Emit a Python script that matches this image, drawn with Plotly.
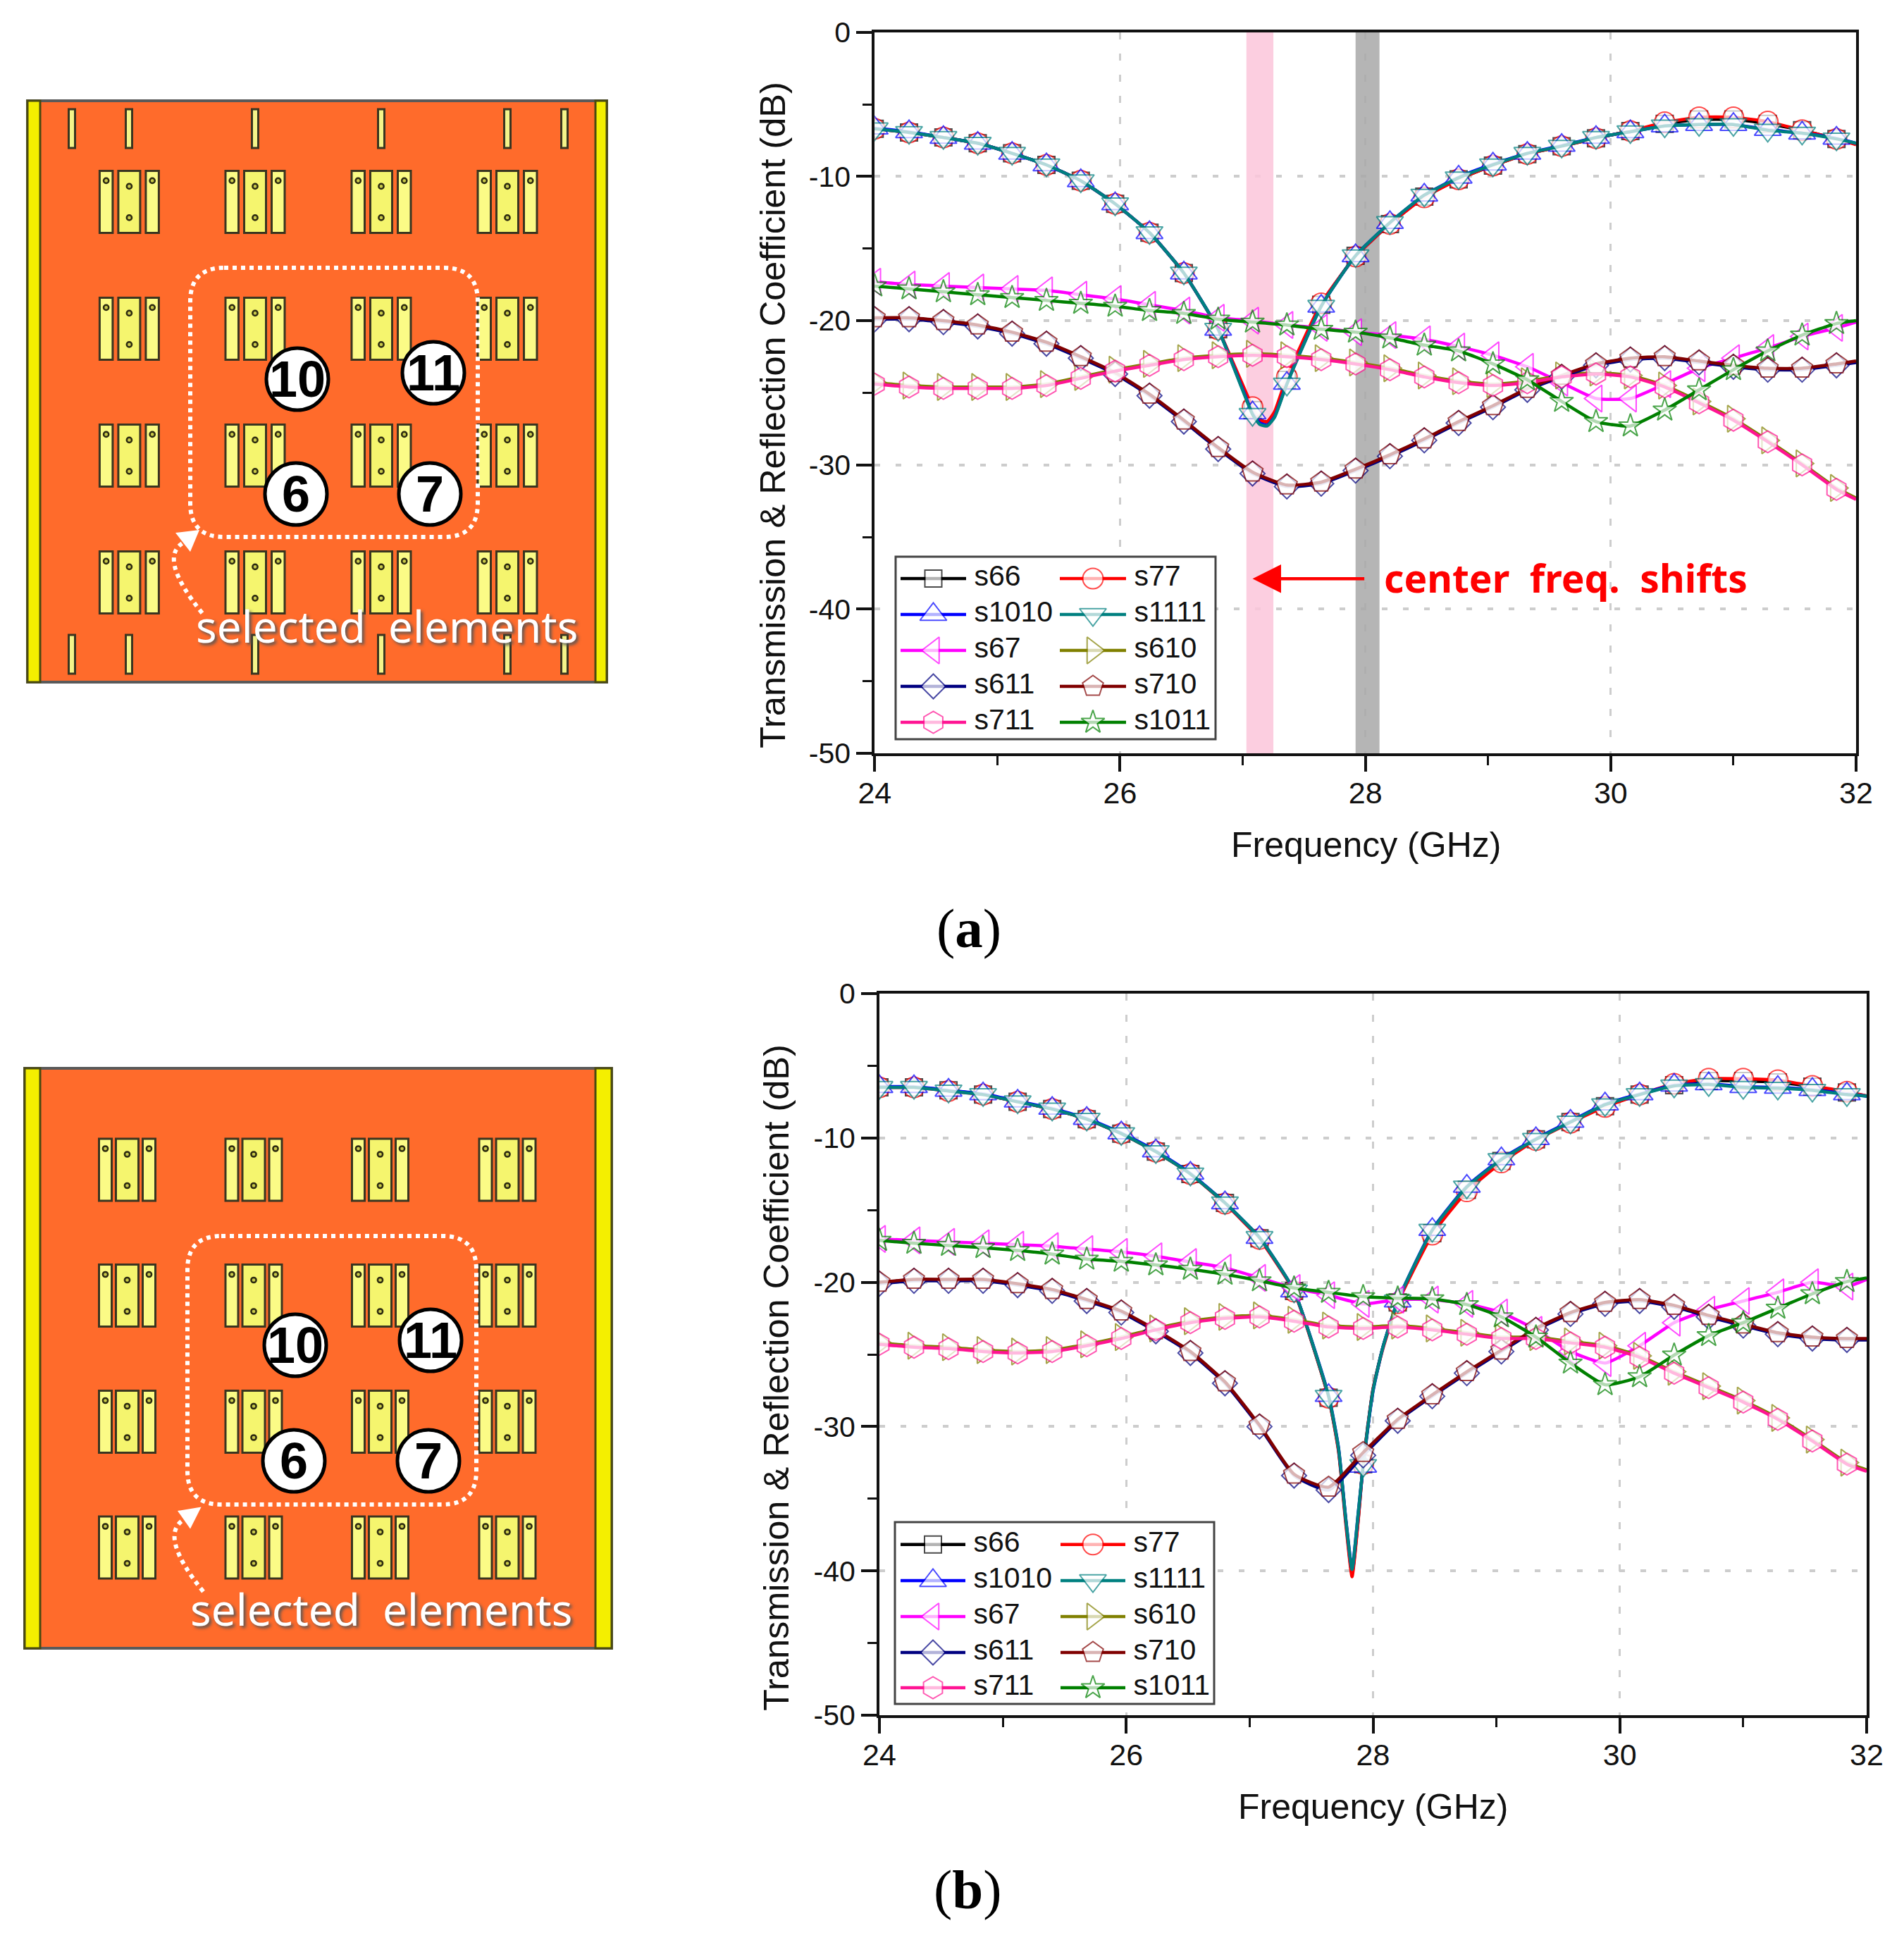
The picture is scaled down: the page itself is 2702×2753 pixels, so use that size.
import plotly.graph_objects as go

W, H = 2702, 2753

# ---------- measured data ----------
FREQ = [24.0, 24.28, 24.56, 24.84, 25.12, 25.4, 25.68, 25.96, 26.24, 26.52, 26.8, 27.08, 27.36, 27.64, 27.92,
        28.2, 28.48, 28.76, 29.04, 29.32, 29.6, 29.88, 30.16, 30.44, 30.72, 31.0, 31.28, 31.56, 31.84, 32.0]
UNMARKED_END = 32.0

# (a) reflection series use a few extra unmarked frequencies around the notch
FREQ_A_R = [24.0, 24.28, 24.56, 24.84, 25.12, 25.4, 25.68, 25.96, 26.24, 26.52, 26.8, 27.08, 27.14, 27.2, 27.26, 27.36, 27.64, 27.92,
            28.2, 28.48, 28.76, 29.04, 29.32, 29.6, 29.88, 30.16, 30.44, 30.72, 31.0, 31.28, 31.56, 31.84, 32.0]
A_S66 = [-6.7, -6.95, -7.3, -7.7, -8.4, -9.2, -10.3, -11.9, -13.9, -16.7, -20.6, -26.2, -26.9, -27.0, -26.4, -24.1, -18.9, -15.5,
         -13.3, -11.4, -10.2, -9.25, -8.45, -7.9, -7.35, -6.85, -6.35, -6.05, -6.05, -6.35, -6.8, -7.4, -7.75]
A_S77 = [-6.7, -6.95, -7.3, -7.7, -8.4, -9.2, -10.3, -11.9, -13.9, -16.7, -20.6, -26.0, -26.9, -27.0, -26.3, -23.9, -18.8, -15.55,
         -13.3, -11.45, -10.2, -9.25, -8.45, -7.9, -7.35, -6.85, -6.25, -5.9, -5.9, -6.2, -6.8, -7.4, -7.8]
A_S1010 = [-6.65, -6.9, -7.3, -7.7, -8.4, -9.2, -10.3, -11.9, -13.9, -16.7, -20.6, -26.4, -27.1, -27.25, -26.65, -24.35, -19.0, -15.5,
           -13.2, -11.3, -10.05, -9.15, -8.4, -7.85, -7.3, -6.9, -6.5, -6.4, -6.4, -6.75, -7.0, -7.35, -7.7]
A_S1111 = [-6.7, -6.95, -7.3, -7.7, -8.4, -9.2, -10.3, -11.9, -13.9, -16.7, -20.6, -26.5, -27.2, -27.3, -26.7, -24.4, -19.0, -15.5,
           -13.2, -11.3, -10.1, -9.2, -8.4, -7.9, -7.3, -6.9, -6.5, -6.4, -6.4, -6.8, -7.0, -7.4, -7.7]

A_S67 = [-17.3, -17.5, -17.6, -17.7, -17.8, -17.9, -18.2, -18.5, -18.9, -19.3, -19.8, -20.0, -20.3, -20.5, -20.8,
         -21.0, -21.3, -21.8, -22.4, -23.2, -24.3, -25.4, -25.4, -24.4, -23.3, -22.6, -21.9, -21.1, -20.5, -20.1]
A_S610 = [-24.3, -24.5, -24.6, -24.6, -24.6, -24.4, -23.9, -23.4, -23.0, -22.6, -22.4, -22.3, -22.4, -22.6, -22.9,
          -23.3, -23.8, -24.2, -24.4, -24.2, -23.8, -23.6, -23.8, -24.5, -25.6, -26.8, -28.3, -29.9, -31.6, -32.3]
A_S611 = [-19.9, -19.9, -20.1, -20.4, -20.9, -21.6, -22.6, -23.7, -25.2, -27.0, -28.9, -30.6, -31.5, -31.3, -30.4,
          -29.4, -28.3, -27.1, -26.0, -24.8, -23.9, -23.1, -22.7, -22.6, -22.9, -23.2, -23.4, -23.4, -23.1, -22.9]
A_S710 = [-19.8, -19.8, -20.0, -20.3, -20.8, -21.5, -22.5, -23.6, -25.1, -26.9, -28.8, -30.5, -31.4, -31.2, -30.3,
          -29.3, -28.2, -27.0, -25.9, -24.7, -23.8, -23.0, -22.6, -22.5, -22.8, -23.1, -23.3, -23.3, -23.0, -22.8]
A_S711 = [-24.4, -24.6, -24.7, -24.7, -24.7, -24.5, -24.0, -23.5, -23.1, -22.7, -22.5, -22.4, -22.5, -22.7, -23.0,
          -23.4, -23.9, -24.3, -24.5, -24.3, -23.9, -23.7, -23.9, -24.6, -25.7, -26.9, -28.4, -30.0, -31.7, -32.4]
A_S1011 = [-17.6, -17.8, -18.0, -18.2, -18.4, -18.6, -18.8, -19.0, -19.3, -19.5, -19.9, -20.1, -20.3, -20.6, -20.8,
           -21.2, -21.7, -22.1, -23.0, -24.1, -25.6, -27.0, -27.3, -26.2, -24.8, -23.4, -22.1, -21.0, -20.2, -20.0]

# (b)
FREQ_B_R = [24.0, 24.28, 24.56, 24.84, 25.12, 25.4, 25.68, 25.96, 26.24, 26.52, 26.8, 27.08, 27.36, 27.64, 27.72, 27.78, 27.83, 27.88, 27.92,
            28.0, 28.08, 28.2, 28.48, 28.76, 29.04, 29.32, 29.6, 29.88, 30.16, 30.44, 30.72, 31.0, 31.28, 31.56, 31.84, 32.0]
B_S66 = [-6.5, -6.5, -6.7, -7.0, -7.5, -8.0, -8.7, -9.7, -10.95, -12.5, -14.5, -16.95, -20.6, -28.0, -31.6, -36.6, -40.2, -36.4, -32.6,
         -27.4, -24.5, -21.4, -16.6, -13.6, -11.6, -10.1, -8.9, -7.8, -7.0, -6.35, -6.05, -6.05, -6.15, -6.45, -6.85, -7.1]
B_S77 = [-6.5, -6.5, -6.75, -7.0, -7.5, -8.0, -8.7, -9.7, -10.95, -12.5, -14.55, -17.0, -20.65, -28.0, -31.7, -36.8, -40.4, -36.5, -32.6,
         -27.4, -24.6, -21.45, -16.7, -13.7, -11.7, -10.15, -8.95, -7.85, -7.0, -6.25, -5.9, -5.9, -6.0, -6.4, -6.8, -7.1]
B_S1010 = [-6.45, -6.45, -6.7, -6.95, -7.45, -7.95, -8.65, -9.65, -10.9, -12.45, -14.5, -16.9, -20.6, -27.85, -31.45, -36.45, -39.85, -36.0, -32.75,
           -27.55, -24.5, -21.3, -16.35, -13.35, -11.45, -10.05, -8.85, -7.65, -6.95, -6.35, -6.25, -6.45, -6.5, -6.65, -6.95, -7.1]
B_S1111 = [-6.5, -6.5, -6.75, -7.0, -7.5, -8.0, -8.7, -9.7, -10.95, -12.5, -14.5, -16.9, -20.6, -27.9, -31.5, -36.5, -39.9, -36.0, -32.7,
           -27.5, -24.5, -21.3, -16.4, -13.4, -11.5, -10.1, -8.9, -7.7, -7.0, -6.4, -6.3, -6.5, -6.55, -6.7, -7.0, -7.1]

B_S67 = [-17.0, -17.1, -17.2, -17.3, -17.4, -17.5, -17.7, -17.9, -18.2, -18.6, -19.0, -19.7, -20.4, -20.9, -21.5,
         -21.2, -21.2, -21.5, -22.1, -23.3, -24.8, -25.6, -24.4, -22.8, -21.9, -21.3, -20.7, -20.0, -20.3, -19.8]
B_S610 = [-24.2, -24.4, -24.5, -24.7, -24.8, -24.7, -24.3, -23.8, -23.2, -22.7, -22.4, -22.3, -22.6, -23.0, -23.1,
          -23.0, -23.2, -23.5, -23.8, -23.8, -24.1, -24.4, -25.1, -26.2, -27.2, -28.2, -29.4, -30.9, -32.5, -33.0]
B_S611 = [-20.1, -19.9, -19.9, -19.9, -20.2, -20.6, -21.3, -22.1, -23.4, -24.9, -27.0, -30.0, -33.4, -34.4, -32.0,
          -29.6, -27.9, -26.3, -24.8, -23.3, -22.2, -21.5, -21.3, -21.7, -22.4, -23.0, -23.6, -23.9, -24.0, -24.0]
B_S710 = [-20.0, -19.8, -19.8, -19.8, -20.1, -20.5, -21.2, -22.0, -23.3, -24.8, -26.9, -29.9, -33.3, -34.2, -31.8,
          -29.5, -27.8, -26.2, -24.7, -23.2, -22.1, -21.4, -21.2, -21.6, -22.3, -22.9, -23.5, -23.8, -23.9, -23.9]
B_S711 = [-24.3, -24.5, -24.6, -24.8, -24.9, -24.8, -24.4, -23.9, -23.3, -22.8, -22.5, -22.4, -22.7, -23.1, -23.2,
          -23.1, -23.3, -23.6, -23.9, -23.9, -24.2, -24.5, -25.2, -26.3, -27.3, -28.3, -29.5, -31.0, -32.6, -33.1]
B_S1011 = [-17.1, -17.3, -17.45, -17.6, -17.8, -18.05, -18.4, -18.55, -18.8, -19.1, -19.45, -19.9, -20.4, -20.7, -21.0,
           -21.1, -21.15, -21.55, -22.4, -23.8, -25.6, -27.1, -26.55, -25.05, -23.7, -22.8, -21.8, -20.8, -19.95, -19.7]

NAMES = ["s66", "s77", "s1010", "s1111", "s67", "s610", "s611", "s710", "s711", "s1011"]
COLORS = ["#000000", "#ff0000", "#0000ff", "#008080", "#ff00ff", "#808000", "#000080", "#800000", "#ff1493", "#008000"]
SYMBOLS = ["square", "circle", "triangle-up", "triangle-down", "triangle-left", "triangle-right",
           "diamond", "pentagon", "hexagon", "star"]
MSIZES = [24, 29, 33, 33, 33, 33, 27, 31, 31, 25]
SERIES_A = [A_S66, A_S77, A_S1010, A_S1111, A_S67, A_S610, A_S611, A_S710, A_S711, A_S1011]
SERIES_B = [B_S66, B_S77, B_S1010, B_S1111, B_S67, B_S610, B_S611, B_S710, B_S711, B_S1011]

X_TICKS = [24, 26, 28, 30, 32]
X_LABELS = ["24", "26", "28", "30", "32"]
Y_TICKS = [0, -10, -20, -30, -40, -50]
Y_LABELS = ["0", "-10", "-20", "-30", "-40", "-50"]
X_TITLE = "Frequency (GHz)"
Y_TITLE = "Transmission &amp; Reflection Coefficient (dB)"

FONT = "Liberation Sans"
INK = "#111111"
GRID = "#cdcdcd"

fig = go.Figure()


def frac_x(p):
    return p / W


def frac_y(p):
    return 1 - p / H


def add_chart(series, refl_freq, xa, ya):
    for i, (name, col, sym, ms, vals) in enumerate(zip(NAMES, COLORS, SYMBOLS, MSIZES, series)):
        xs = refl_freq if i < 4 else FREQ
        sizes = [ms if (f in FREQ and f != UNMARKED_END) else 0 for f in xs]
        fig.add_trace(go.Scatter(
            x=xs, y=vals, name=name, mode="lines+markers", xaxis=xa, yaxis=ya, showlegend=False,
            line=dict(color=col, width=4.5, shape="spline", smoothing=0.5),
            marker=dict(symbol=sym, size=sizes, color="white", line=dict(color=col, width=2))))


add_chart(SERIES_A, FREQ_A_R, "x", "y")
add_chart(SERIES_B, FREQ_B_R, "x2", "y2")


def x_axis(dom, anchor):
    return dict(domain=[frac_x(dom[0]), frac_x(dom[1])], anchor=anchor, range=[24, 32], automargin=False,
                tickmode="array", tickvals=X_TICKS, ticktext=X_LABELS, ticks="outside", ticklen=22, tickwidth=4, tickcolor=INK,
                tickfont=dict(family=FONT, size=43, color=INK), ticklabelstandoff=-7,
                showline=True, linewidth=4, linecolor=INK, mirror=True,
                showgrid=True, gridcolor=GRID, gridwidth=3, griddash="10px,20px", zeroline=False,
                minor=dict(dtick=1, ticks="outside", ticklen=13, tickwidth=3, tickcolor=INK, showgrid=False))


def y_axis(dom, anchor):
    return dict(domain=[frac_y(dom[1]), frac_y(dom[0])], anchor=anchor, range=[-50, 0], automargin=False,
                tickmode="array", tickvals=Y_TICKS, ticktext=Y_LABELS, ticks="outside", ticklen=22, tickwidth=4, tickcolor=INK,
                tickfont=dict(family=FONT, size=41, color=INK),
                showline=True, linewidth=4, linecolor=INK, mirror=True,
                showgrid=True, gridcolor=GRID, gridwidth=3.5, griddash="8px,22px", zeroline=False,
                minor=dict(dtick=5, ticks="outside", ticklen=13, tickwidth=3, tickcolor=INK, showgrid=False))


shapes = []
annots = []

# centre-frequency bands of chart (a)
BAND_PINK = [27.03, 27.25]
BAND_GRAY = [27.92, 28.115]
shapes.append(dict(type="rect", xref="x", yref="y", x0=BAND_PINK[0], x1=BAND_PINK[1], y0=-50, y1=0, layer="between",
                   fillcolor="#fbc6da", opacity=0.85, line=dict(width=0)))
shapes.append(dict(type="rect", xref="x", yref="y", x0=BAND_GRAY[0], x1=BAND_GRAY[1], y0=-50, y1=0, layer="between",
                   fillcolor="#a8a8a8", opacity=0.85, line=dict(width=0)))

annots.append(dict(xref="x", yref="y", axref="x", ayref="y", x=27.08, y=-37.9, ax=28.0, ay=-37.9, text="",
                   showarrow=True, arrowhead=2, arrowsize=1.8, arrowwidth=4.5, arrowcolor="#ff0000"))
annots.append(dict(xref="x", yref="y", x=28.14, y=-37.8, xanchor="left", yanchor="middle", showarrow=False,
                   text="<b>center  freq.  shifts</b>", font=dict(family="Noto Sans", size=55, color="#ff0000")))


# ---------- overlay in page pixels: boards, legends, titles, panel labels ----------
def rect(x0, y0, x1, y1, fill, line="#3a3520", lw=3):
    shapes.append(dict(type="rect", xref="x3", yref="y3", x0=x0, x1=x1, y0=y0, y1=y1, fillcolor=fill, layer="between",
                       line=dict(color=line, width=lw)))


def circ(cx, cy, r, fill, line, lw):
    shapes.append(dict(type="circle", xref="x3", yref="y3", x0=cx - r, x1=cx + r, y0=cy - r, y1=cy + r, layer="between",
                       fillcolor=fill, line=dict(color=line, width=lw)))


def board(b):
    x0, y0, x1, y1 = b["outer"]
    rect(x0, y0, x1, y1, "#ff6b2b", "#5a5a5a", 4)
    rect(x0, y0, b["side"][0], y1, "#f4ef00", "#4a4a10", 3)
    rect(b["side"][1], y0, x1, y1, "#f4ef00", "#4a4a10", 3)
    gl, gm = b["strip_w"], b["mid_w"]
    g = b["gap"]
    for gx in b["cols"]:
        for gy in b["rows"]:
            h = 88
            rect(gx, gy, gx + gl, gy + h, "#fbfb86")
            rect(gx + gl + g, gy, gx + gl + g + gm, gy + h, "#f5f56e")
            rx = gx + gl + g + gm + g
            rect(rx, gy, rx + gl, gy + h, "#fbfb86")
            for vx, vy in [(gx + gl / 2, gy + 14), (rx + gl / 2, gy + 14),
                           (gx + gl + g + gm / 2, gy + 22), (gx + gl + g + gm / 2, gy + 66.5)]:
                circ(vx, vy, 3.6, "#c9c94a", "#2c2a10", 2.5)
    for sx in b["slots"]:
        for sy in b["slot_rows"]:
            rect(sx - 4.5, sy, sx + 4.5, sy + 55, "#f4f48a")
    # dotted rounded frame
    a, t, c, d = b["frame"]
    r = 48
    shapes.append(dict(type="path", xref="x3", yref="y3", layer="between",
                       path=f"M{a + r},{t} L{c - r},{t} Q{c},{t} {c},{t + r} L{c},{d - r} Q{c},{d} {c - r},{d} "
                            f"L{a + r},{d} Q{a},{d} {a},{d - r} L{a},{t + r} Q{a},{t} {a + r},{t} Z",
                       line=dict(color="white", width=6, dash="6px,6px")))
    p, q, s = b["arrow"]
    shapes.append(dict(type="path", xref="x3", yref="y3", layer="between",
                       path=f"M{p[0]},{p[1]} Q{q[0]},{q[1]} {s[0]},{s[1]}",
                       line=dict(color="white", width=6, dash="6px,6px")))
    t1, t2, t3 = b["head"]
    shapes.append(dict(type="path", xref="x3", yref="y3", layer="between", fillcolor="white",
                       path=f"M{t1[0]},{t1[1]} L{t2[0]},{t2[1]} L{t3[0]},{t3[1]} Z", line=dict(width=0)))
    for label, (cx, cy) in b["circles"].items():
        circ(cx, cy, 44, "white", "#000000", 5)
        annots.append(dict(xref="x3", yref="y3", x=cx, y=cy, text=f"<b>{label}</b>", showarrow=False,
                           font=dict(family=FONT, size=72, color="black")))
    annots.append(dict(xref="x3", yref="y3", x=b["text"][0], y=b["text"][1], text="selected  elements", showarrow=False,
                       font=dict(family="Noto Sans", size=62, color="white", shadow="3px 3px 4px #555555")))


BOARD_A = dict(outer=(39, 143, 861, 968), side=(57, 845), strip_w=18.5, mid_w=31, gap=8,
               cols=[141.4, 320, 499, 678], rows=[242.4, 422.4, 602.4, 782.4],
               slots=[102, 183, 362, 541, 720, 801], slot_rows=[155, 901],
               frame=(270, 380, 678, 762), arrow=((287, 870), (222, 790), (262, 769)),
               head=((283, 752), (249, 756), (270, 783)),
               circles={"10": (422, 538), "11": (615, 529), "6": (420, 701), "7": (610, 701)},
               text=(549, 888))
BOARD_B = dict(outer=(35, 1516, 868, 2339), side=(57, 845), strip_w=18, mid_w=32, gap=6,
               cols=[140.5, 320, 499.5, 680], rows=[1616, 1794.5, 1973.5, 2152],
               slots=[], slot_rows=[],
               frame=(266, 1754, 676, 2135), arrow=((288.5, 2258.6), (225, 2180), (260, 2157)),
               head=((285.6, 2138.5), (252, 2144), (270, 2169.5)),
               circles={"10": (419, 1909), "11": (611, 1902), "6": (417, 2073), "7": (608, 2073)},
               text=(541, 2283))
board(BOARD_A)
board(BOARD_B)


def legend(box, row_ys, col_x, text_font=41):
    shapes.append(dict(type="rect", xref="x3", yref="y3", x0=box[0], y0=box[1], x1=box[2], y1=box[3], layer="between",
                       fillcolor="white", line=dict(color="#444444", width=3)))
    for i, (name, col, sym, ms) in enumerate(zip(NAMES, COLORS, SYMBOLS, MSIZES)):
        r, c = i // 2, i % 2
        x0, x1 = col_x[c]
        xm = (x0 + x1) / 2
        y = row_ys[r]
        fig.add_trace(go.Scatter(
            x=[x0, xm, x1], y=[y, y, y], name=name + " key", mode="lines+markers+text", xaxis="x3", yaxis="y3", showlegend=False,
            hoverinfo="skip",
            text=["", "", "\u00a0" + name], textposition="middle right",
            textfont=dict(family=FONT, size=text_font, color="#111111"),
            line=dict(color=col, width=4.5),
            marker=dict(symbol=sym, size=[0, ms, 0], color="white", line=dict(color=col, width=2))))


legend((1271, 790, 1725, 1049), [821, 872, 923, 974, 1025], [(1278, 1371), (1504, 1598)])
legend((1270, 2160, 1723, 2418), [2191.7, 2243, 2294, 2345, 2395], [(1278, 1370), (1505, 1597)])

for label, px, py in [("a", 1375, 1317), ("b", 1373, 2681)]:
    annots.append(dict(xref="x3", yref="y3", x=px, y=py, showarrow=False, text=f"(<b>{label}</b>)",
                       font=dict(family="Liberation Serif", size=79, color="black")))

for px, py in [(1938, 1199), (1948.5, 2564)]:
    annots.append(dict(xref="x3", yref="y3", x=px, y=py, showarrow=False, text=X_TITLE,
                       font=dict(family=FONT, size=50, color=INK)))
for px, py in [(1096, 589), (1101, 1955)]:
    annots.append(dict(xref="x3", yref="y3", x=px, y=py, showarrow=False, text=Y_TITLE, textangle=-90,
                       font=dict(family=FONT, size=50.5, color=INK)))

A_X, A_Y = (1241.3, 2634), (45.7, 1069)
B_X, B_Y = (1248, 2649), (1410, 2434)

fig.update_layout(
    template="none",
    width=W, height=H, autosize=False, margin=dict(l=0, r=0, t=0, b=0),
    paper_bgcolor="white", plot_bgcolor="rgba(0,0,0,0)", showlegend=False, hovermode=False,
    xaxis=x_axis(A_X, "y"), yaxis=y_axis(A_Y, "x"),
    xaxis2=x_axis(B_X, "y2"), yaxis2=y_axis(B_Y, "x2"),
    xaxis3=dict(domain=[0, 1], range=[0, W], visible=False, anchor="y3", fixedrange=True, automargin=False),
    yaxis3=dict(domain=[0, 1], range=[H, 0], visible=False, anchor="x3", fixedrange=True, automargin=False),
    shapes=shapes, annotations=annots,
)

fig.write_html("out.html", config={"displayModeBar": False}, post_script="document.body.style.margin='0';")
